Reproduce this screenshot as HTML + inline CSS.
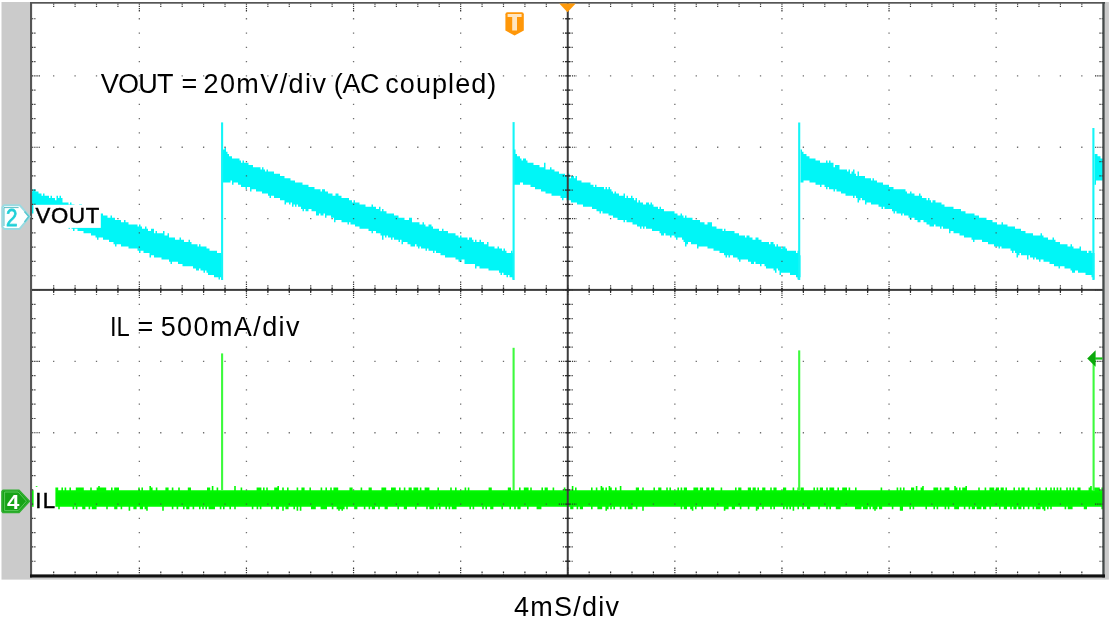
<!DOCTYPE html>
<html><head><meta charset="utf-8"><title>Scope</title>
<style>
html,body{margin:0;padding:0;background:#fff;}
body{width:1111px;height:641px;position:relative;overflow:hidden;font-family:"Liberation Sans",sans-serif;color:#000;}
.t{position:absolute;white-space:nowrap;line-height:1;font-size:27.0px;}
.t span{position:absolute;top:0;white-space:nowrap;}
.lb{font-size:22.2px;-webkit-text-stroke:0.45px #000;}
#l1{left:35.4px;top:205.2px;letter-spacing:0.8px;}
#l2{left:35.3px;top:489.5px;letter-spacing:1.3px;}
#m2{left:5.9px;top:205.8px;font-size:24.6px;color:#1fd0d8;-webkit-text-stroke:0.8px #1fd0d8;transform:scaleX(0.84);transform-origin:0 0;}
#m4{left:6.8px;top:492.8px;font-size:19.5px;color:#fff;font-weight:bold;transform:scaleX(1.14);transform-origin:0 0;}
</style></head><body>
<svg width="1111" height="641" viewBox="0 0 1111 641" style="position:absolute;left:0;top:0">
<rect x="1.5" y="2" width="1107.4" height="577.6" fill="#cbcbcb"/>
<rect x="31" y="3" width="1073" height="573" fill="#fff"/>
<g clip-path="url(#plotclip)">
<path d="M31 191.4V191.4H32.5V189.2H34V189.2H35.5V191.4H37V191.4H38.5V193.6H40V193.6H41.5V195.8H43V193.6H44.5V195.8H46V195.8H47.5V195.8H49V198H50.5V195.8H52V198H53.5V198H55V200.2H56.5V195.8H58V198H59.5V195.8H61V198H62.5V202.4H64V202.4H65.5V202.4H67V202.4H68.5V204.6H70V202.4H71.5V204.6H73V204.6H74.5V206.8H76V206.8H77.5V206.8H79V204.6H80.5V204.6H82V209H83.5V209H85V209H86.5V209H88V209H89.5V211.2H91V211.2H92.5V211.2H94V213.4H95.5V213.4H97V213.4H98.5V213.4H100V213.4H101.5V213.4H103V215.6H104.5V215.6H106V215.6H107.5V217.8H109V217.8H110.5V215.6H112V217.8H113.5V217.8H115V220H116.5V220H118V220H119.5V220H121V222.2H122.5V222.2H124V220H125.5V222.2H127V222.2H128.5V224.4H130V224.4H131.5V224.4H133V224.4H134.5V224.4H136V224.4H137.5V226.6H139V224.4H140.5V226.6H142V228.8H143.5V228.8H145V226.6H146.5V228.8H148V231H149.5V231H151V228.8H152.5V228.8H154V233.2H155.5V231H157V233.2H158.5V233.2H160V233.2H161.5V233.2H163V231H164.5V235.4H166V235.4H167.5V233.2H169V237.6H170.5V237.6H172V237.6H173.5V237.6H175V239.8H176.5V239.8H178V239.8H179.5V237.6H181V239.8H182.5V239.8H184V242H185.5V242H187V242H188.5V239.8H190V242H191.5V244.2H193V244.2H194.5V244.2H196V244.2H197.5V246.4H199V244.2H200.5V246.4H202V246.4H203.5V246.4H205V246.4H206.5V248.6H208V248.6H209.5V250.8H211V250.8H212.5V250.8H214V250.8H215.5V250.8H217V253H218.5V253H220V253H221.5V255.2H223V149.6H224.5V147.4H226V151.8H227.5V154H229V156.2H230.5V156.2H232V158.4H233.5V158.4H235V158.4H236.5V158.4H238V158.4H239.5V160.6H241V162.8H242.5V160.6H244V162.8H245.5V162.8H247V162.8H248.5V165H250V165H251.5V165H253V167.2H254.5V167.2H256V167.2H257.5V167.2H259V167.2H260.5V169.4H262V167.2H263.5V169.4H265V171.6H266.5V169.4H268V171.6H269.5V171.6H271V171.6H272.5V171.6H274V173.8H275.5V173.8H277V173.8H278.5V173.8H280V176H281.5V176H283V176H284.5V178.2H286V178.2H287.5V178.2H289V178.2H290.5V180.4H292V180.4H293.5V180.4H295V182.6H296.5V182.6H298V182.6H299.5V182.6H301V182.6H302.5V184.8H304V184.8H305.5V184.8H307V184.8H308.5V187H310V187H311.5V187H313V187H314.5V189.2H316V189.2H317.5V189.2H319V189.2H320.5V191.4H322V189.2H323.5V189.2H325V191.4H326.5V191.4H328V193.6H329.5V193.6H331V193.6H332.5V195.8H334V195.8H335.5V193.6H337V193.6H338.5V195.8H340V195.8H341.5V198H343V198H344.5V198H346V198H347.5V198H349V200.2H350.5V200.2H352V202.4H353.5V200.2H355V202.4H356.5V202.4H358V202.4H359.5V204.6H361V204.6H362.5V204.6H364V204.6H365.5V206.8H367V206.8H368.5V206.8H370V206.8H371.5V204.6H373V206.8H374.5V206.8H376V209H377.5V209H379V206.8H380.5V211.2H382V209H383.5V211.2H385V211.2H386.5V213.4H388V213.4H389.5V213.4H391V213.4H392.5V213.4H394V215.6H395.5V215.6H397V215.6H398.5V217.8H400V217.8H401.5V217.8H403V217.8H404.5V220H406V220H407.5V220H409V217.8H410.5V217.8H412V222.2H413.5V222.2H415V222.2H416.5V222.2H418V222.2H419.5V224.4H421V224.4H422.5V222.2H424V224.4H425.5V226.6H427V226.6H428.5V224.4H430V224.4H431.5V226.6H433V228.8H434.5V228.8H436V228.8H437.5V228.8H439V231H440.5V231H442V228.8H443.5V231H445V231H446.5V231H448V233.2H449.5V233.2H451V233.2H452.5V233.2H454V233.2H455.5V235.4H457V235.4H458.5V237.6H460V235.4H461.5V237.6H463V237.6H464.5V237.6H466V237.6H467.5V239.8H469V237.6H470.5V237.6H472V239.8H473.5V242H475V239.8H476.5V242H478V242H479.5V239.8H481V242H482.5V242H484V244.2H485.5V244.2H487V242H488.5V246.4H490V246.4H491.5V246.4H493V246.4H494.5V248.6H496V248.6H497.5V246.4H499V248.6H500.5V248.6H502V250.8H503.5V248.6H505V250.8H506.5V253H508V253H509.5V253H511V250.8H512.5V253H514V149.6H515.5V154H517V156.2H518.5V156.2H520V158.4H521.5V160.6H523V158.4H524.5V158.4H526V160.6H527.5V162.8H529V162.8H530.5V162.8H532V162.8H533.5V165H535V165H536.5V165H538V165H539.5V167.2H541V167.2H542.5V167.2H544V162.8H545.5V169.4H547V169.4H548.5V169.4H550V167.2H551.5V169.4H553V169.4H554.5V171.6H556V171.6H557.5V171.6H559V173.8H560.5V173.8H562V173.8H563.5V173.8H565V176H566.5V176H568V173.8H569.5V178.2H571V176H572.5V176H574V178.2H575.5V176H577V180.4H578.5V180.4H580V180.4H581.5V182.6H583V182.6H584.5V182.6H586V182.6H587.5V182.6H589V182.6H590.5V184.8H592V184.8H593.5V187H595V184.8H596.5V187H598V187H599.5V187H601V187H602.5V187H604V189.2H605.5V187H607V189.2H608.5V187H610V189.2H611.5V191.4H613V193.6H614.5V191.4H616V193.6H617.5V193.6H619V195.8H620.5V195.8H622V195.8H623.5V193.6H625V198H626.5V195.8H628V198H629.5V198H631V195.8H632.5V198H634V200.2H635.5V198H637V202.4H638.5V200.2H640V202.4H641.5V202.4H643V204.6H644.5V204.6H646V202.4H647.5V202.4H649V204.6H650.5V202.4H652V204.6H653.5V206.8H655V206.8H656.5V206.8H658V209H659.5V206.8H661V209H662.5V209H664V211.2H665.5V211.2H667V211.2H668.5V211.2H670V211.2H671.5V211.2H673V211.2H674.5V213.4H676V213.4H677.5V215.6H679V215.6H680.5V213.4H682V215.6H683.5V217.8H685V215.6H686.5V217.8H688V217.8H689.5V217.8H691V217.8H692.5V220H694V220H695.5V220H697V220H698.5V220H700V222.2H701.5V222.2H703V222.2H704.5V224.4H706V224.4H707.5V222.2H709V222.2H710.5V222.2H712V226.6H713.5V226.6H715V226.6H716.5V228.8H718V228.8H719.5V228.8H721V228.8H722.5V231H724V228.8H725.5V231H727V231H728.5V231H730V231H731.5V231H733V231H734.5V233.2H736V233.2H737.5V233.2H739V235.4H740.5V235.4H742V235.4H743.5V235.4H745V237.6H746.5V235.4H748V235.4H749.5V237.6H751V237.6H752.5V239.8H754V239.8H755.5V237.6H757V237.6H758.5V239.8H760V239.8H761.5V242H763V242H764.5V242H766V242H767.5V242H769V244.2H770.5V242H772V242H773.5V244.2H775V246.4H776.5V244.2H778V246.4H779.5V246.4H781V248.6H782.5V246.4H784V246.4H785.5V248.6H787V250.8H788.5V250.8H790V250.8H791.5V250.8H793V250.8H794.5V250.8H796V253H797.5V250.8H799V255.2H800.5V149.6H802V151.8H803.5V154H805V154H806.5V156.2H808V156.2H809.5V158.4H811V158.4H812.5V158.4H814V158.4H815.5V160.6H817V160.6H818.5V160.6H820V162.8H821.5V162.8H823V162.8H824.5V162.8H826V160.6H827.5V162.8H829V160.6H830.5V162.8H832V162.8H833.5V167.2H835V165H836.5V165H838V165H839.5V169.4H841V169.4H842.5V169.4H844V169.4H845.5V169.4H847V171.6H848.5V169.4H850V173.8H851.5V171.6H853V169.4H854.5V173.8H856V176H857.5V171.6H859V176H860.5V176H862V176H863.5V176H865V178.2H866.5V178.2H868V178.2H869.5V178.2H871V180.4H872.5V178.2H874V180.4H875.5V180.4H877V182.6H878.5V182.6H880V182.6H881.5V182.6H883V184.8H884.5V184.8H886V184.8H887.5V184.8H889V187H890.5V187H892V187H893.5V189.2H895V189.2H896.5V189.2H898V189.2H899.5V189.2H901V189.2H902.5V189.2H904V189.2H905.5V191.4H907V193.6H908.5V193.6H910V191.4H911.5V193.6H913V193.6H914.5V195.8H916V195.8H917.5V195.8H919V193.6H920.5V195.8H922V198H923.5V198H925V198H926.5V200.2H928V198H929.5V200.2H931V202.4H932.5V200.2H934V200.2H935.5V202.4H937V202.4H938.5V202.4H940V202.4H941.5V204.6H943V204.6H944.5V206.8H946V206.8H947.5V206.8H949V206.8H950.5V206.8H952V206.8H953.5V209H955V209H956.5V209H958V209H959.5V209H961V211.2H962.5V211.2H964V211.2H965.5V213.4H967V213.4H968.5V213.4H970V213.4H971.5V213.4H973V213.4H974.5V215.6H976V215.6H977.5V215.6H979V217.8H980.5V217.8H982V217.8H983.5V217.8H985V217.8H986.5V220H988V220H989.5V220H991V220H992.5V222.2H994V222.2H995.5V222.2H997V224.4H998.5V224.4H1000V224.4H1001.5V222.2H1003V224.4H1004.5V224.4H1006V224.4H1007.5V226.6H1009V226.6H1010.5V226.6H1012V226.6H1013.5V226.6H1015V228.8H1016.5V228.8H1018V228.8H1019.5V228.8H1021V231H1022.5V231H1024V231H1025.5V233.2H1027V233.2H1028.5V233.2H1030V233.2H1031.5V233.2H1033V235.4H1034.5V235.4H1036V235.4H1037.5V235.4H1039V235.4H1040.5V233.2H1042V235.4H1043.5V237.6H1045V237.6H1046.5V237.6H1048V239.8H1049.5V239.8H1051V239.8H1052.5V237.6H1054V239.8H1055.5V242H1057V242H1058.5V242H1060V244.2H1061.5V244.2H1063V244.2H1064.5V244.2H1066V244.2H1067.5V246.4H1069V246.4H1070.5V244.2H1072V246.4H1073.5V248.6H1075V248.6H1076.5V248.6H1078V248.6H1079.5V246.4H1081V250.8H1082.5V250.8H1084V250.8H1085.5V250.8H1087V253H1088.5V250.8H1090V250.8H1091.5V253H1093V253H1094.5V154H1096V154H1097.5V156.2H1099V156.2H1100.5V158.4H1102V158.4H1103.5V158.4H1105V180.4H1103.5V180.4H1102V180.4H1100.5V180.4H1099V180.4H1097.5V180.4H1096V184.8H1094.5V279.4H1093V277.2H1091.5V275H1090V275H1088.5V275H1087V275H1085.5V272.8H1084V272.8H1082.5V272.8H1081V272.8H1079.5V272.8H1078V270.6H1076.5V270.6H1075V272.8H1073.5V272.8H1072V270.6H1070.5V268.4H1069V268.4H1067.5V268.4H1066V268.4H1064.5V266.2H1063V266.2H1061.5V266.2H1060V268.4H1058.5V266.2H1057V266.2H1055.5V266.2H1054V264H1052.5V264H1051V264H1049.5V261.8H1048V261.8H1046.5V261.8H1045V261.8H1043.5V259.6H1042V259.6H1040.5V261.8H1039V259.6H1037.5V259.6H1036V257.4H1034.5V259.6H1033V257.4H1031.5V257.4H1030V255.2H1028.5V259.6H1027V255.2H1025.5V255.2H1024V255.2H1022.5V255.2H1021V253H1019.5V255.2H1018V257.4H1016.5V253H1015V250.8H1013.5V253H1012V250.8H1010.5V248.6H1009V248.6H1007.5V248.6H1006V248.6H1004.5V248.6H1003V248.6H1001.5V246.4H1000V248.6H998.5V246.4H997V246.4H995.5V246.4H994V244.2H992.5V244.2H991V244.2H989.5V244.2H988V242H986.5V242H985V242H983.5V242H982V239.8H980.5V239.8H979V239.8H977.5V239.8H976V239.8H974.5V242H973V239.8H971.5V237.6H970V237.6H968.5V237.6H967V237.6H965.5V237.6H964V235.4H962.5V235.4H961V235.4H959.5V233.2H958V233.2H956.5V233.2H955V233.2H953.5V231H952V231H950.5V233.2H949V228.8H947.5V228.8H946V228.8H944.5V228.8H943V226.6H941.5V228.8H940V226.6H938.5V226.6H937V226.6H935.5V224.4H934V226.6H932.5V226.6H931V226.6H929.5V224.4H928V224.4H926.5V222.2H925V222.2H923.5V220H922V220H920.5V222.2H919V222.2H917.5V220H916V220H914.5V217.8H913V217.8H911.5V220H910V217.8H908.5V215.6H907V215.6H905.5V215.6H904V213.4H902.5V215.6H901V213.4H899.5V213.4H898V213.4H896.5V211.2H895V213.4H893.5V211.2H892V209H890.5V209H889V209H887.5V209H886V209H884.5V206.8H883V209H881.5V206.8H880V206.8H878.5V204.6H877V204.6H875.5V204.6H874V204.6H872.5V204.6H871V202.4H869.5V202.4H868V202.4H866.5V204.6H865V200.2H863.5V200.2H862V198H860.5V200.2H859V202.4H857.5V198H856V195.8H854.5V198H853V195.8H851.5V195.8H850V195.8H848.5V195.8H847V195.8H845.5V193.6H844V193.6H842.5V193.6H841V191.4H839.5V191.4H838V191.4H836.5V189.2H835V191.4H833.5V189.2H832V189.2H830.5V189.2H829V187H827.5V189.2H826V187H824.5V184.8H823V184.8H821.5V187H820V184.8H818.5V184.8H817V184.8H815.5V182.6H814V182.6H812.5V182.6H811V182.6H809.5V180.4H808V180.4H806.5V180.4H805V180.4H803.5V182.6H802V182.6H800.5V277.2H799V279.4H797.5V277.2H796V275H794.5V275H793V275H791.5V275H790V272.8H788.5V272.8H787V272.8H785.5V272.8H784V272.8H782.5V272.8H781V275H779.5V270.6H778V268.4H776.5V272.8H775V270.6H773.5V268.4H772V268.4H770.5V268.4H769V268.4H767.5V268.4H766V266.2H764.5V264H763V264H761.5V266.2H760V264H758.5V264H757V264H755.5V261.8H754V264H752.5V264H751V261.8H749.5V261.8H748V259.6H746.5V259.6H745V259.6H743.5V259.6H742V259.6H740.5V261.8H739V259.6H737.5V257.4H736V257.4H734.5V257.4H733V255.2H731.5V255.2H730V257.4H728.5V255.2H727V257.4H725.5V255.2H724V253H722.5V253H721V253H719.5V250.8H718V250.8H716.5V250.8H715V250.8H713.5V248.6H712V248.6H710.5V248.6H709V248.6H707.5V246.4H706V246.4H704.5V246.4H703V246.4H701.5V246.4H700V246.4H698.5V248.6H697V244.2H695.5V244.2H694V244.2H692.5V244.2H691V242H689.5V242H688V244.2H686.5V246.4H685V242H683.5V239.8H682V237.6H680.5V237.6H679V237.6H677.5V239.8H676V237.6H674.5V235.4H673V235.4H671.5V237.6H670V235.4H668.5V235.4H667V235.4H665.5V233.2H664V235.4H662.5V235.4H661V233.2H659.5V231H658V231H656.5V231H655V231H653.5V231H652V228.8H650.5V228.8H649V228.8H647.5V228.8H646V226.6H644.5V228.8H643V226.6H641.5V228.8H640V226.6H638.5V226.6H637V224.4H635.5V224.4H634V224.4H632.5V222.2H631V222.2H629.5V222.2H628V222.2H626.5V220H625V222.2H623.5V220H622V220H620.5V220H619V220H617.5V217.8H616V217.8H614.5V217.8H613V215.6H611.5V215.6H610V215.6H608.5V213.4H607V213.4H605.5V213.4H604V213.4H602.5V211.2H601V213.4H599.5V211.2H598V211.2H596.5V209H595V209H593.5V209H592V206.8H590.5V206.8H589V206.8H587.5V206.8H586V206.8H584.5V206.8H583V204.6H581.5V204.6H580V204.6H578.5V204.6H577V202.4H575.5V202.4H574V202.4H572.5V202.4H571V200.2H569.5V200.2H568V200.2H566.5V198H565V198H563.5V200.2H562V198H560.5V195.8H559V195.8H557.5V195.8H556V195.8H554.5V195.8H553V195.8H551.5V193.6H550V193.6H548.5V193.6H547V193.6H545.5V191.4H544V191.4H542.5V191.4H541V189.2H539.5V189.2H538V189.2H536.5V189.2H535V187H533.5V187H532V187H530.5V184.8H529V184.8H527.5V184.8H526V184.8H524.5V184.8H523V182.6H521.5V182.6H520V184.8H518.5V184.8H517V184.8H515.5V184.8H514V279.4H512.5V277.2H511V277.2H509.5V275H508V277.2H506.5V275H505V275H503.5V272.8H502V275H500.5V272.8H499V270.6H497.5V270.6H496V270.6H494.5V270.6H493V270.6H491.5V270.6H490V270.6H488.5V268.4H487V268.4H485.5V268.4H484V268.4H482.5V268.4H481V268.4H479.5V266.2H478V266.2H476.5V268.4H475V264H473.5V264H472V264H470.5V264H469V264H467.5V264H466V264H464.5V259.6H463V259.6H461.5V261.8H460V261.8H458.5V259.6H457V259.6H455.5V257.4H454V257.4H452.5V257.4H451V257.4H449.5V257.4H448V257.4H446.5V257.4H445V255.2H443.5V255.2H442V255.2H440.5V253H439V253H437.5V253H436V250.8H434.5V253H433V250.8H431.5V250.8H430V250.8H428.5V248.6H427V250.8H425.5V248.6H424V248.6H422.5V248.6H421V246.4H419.5V248.6H418V246.4H416.5V244.2H415V246.4H413.5V246.4H412V246.4H410.5V244.2H409V244.2H407.5V242H406V242H404.5V242H403V244.2H401.5V239.8H400V242H398.5V239.8H397V239.8H395.5V239.8H394V237.6H392.5V239.8H391V237.6H389.5V237.6H388V235.4H386.5V237.6H385V235.4H383.5V239.8H382V235.4H380.5V233.2H379V233.2H377.5V233.2H376V231H374.5V231H373V233.2H371.5V231H370V231H368.5V228.8H367V228.8H365.5V228.8H364V228.8H362.5V228.8H361V228.8H359.5V226.6H358V226.6H356.5V226.6H355V224.4H353.5V224.4H352V224.4H350.5V222.2H349V224.4H347.5V222.2H346V222.2H344.5V222.2H343V222.2H341.5V220H340V220H338.5V220H337V220H335.5V222.2H334V217.8H332.5V217.8H331V215.6H329.5V215.6H328V215.6H326.5V217.8H325V213.4H323.5V215.6H322V215.6H320.5V213.4H319V215.6H317.5V215.6H316V211.2H314.5V211.2H313V211.2H311.5V209H310V209H308.5V211.2H307V211.2H305.5V209H304V211.2H302.5V209H301V206.8H299.5V206.8H298V204.6H296.5V206.8H295V204.6H293.5V206.8H292V202.4H290.5V204.6H289V202.4H287.5V202.4H286V204.6H284.5V200.2H283V200.2H281.5V200.2H280V198H278.5V198H277V198H275.5V198H274V195.8H272.5V195.8H271V198H269.5V195.8H268V193.6H266.5V193.6H265V193.6H263.5V193.6H262V191.4H260.5V191.4H259V191.4H257.5V191.4H256V189.2H254.5V189.2H253V189.2H251.5V191.4H250V187H248.5V187H247V189.2H245.5V187H244V187H242.5V187H241V184.8H239.5V184.8H238V182.6H236.5V182.6H235V182.6H233.5V184.8H232V180.4H230.5V182.6H229V182.6H227.5V182.6H226V182.6H224.5V182.6H223V279.4H221.5V277.2H220V279.4H218.5V277.2H217V277.2H215.5V277.2H214V275H212.5V275H211V275H209.5V275H208V272.8H206.5V270.6H205V272.8H203.5V270.6H202V270.6H200.5V268.4H199V270.6H197.5V270.6H196V268.4H194.5V268.4H193V266.2H191.5V266.2H190V266.2H188.5V266.2H187V266.2H185.5V266.2H184V266.2H182.5V264H181V264H179.5V264H178V261.8H176.5V261.8H175V261.8H173.5V261.8H172V264H170.5V261.8H169V259.6H167.5V259.6H166V259.6H164.5V259.6H163V259.6H161.5V257.4H160V257.4H158.5V257.4H157V257.4H155.5V257.4H154V255.2H152.5V255.2H151V257.4H149.5V253H148V253H146.5V253H145V253H143.5V250.8H142V250.8H140.5V253H139V250.8H137.5V248.6H136V248.6H134.5V248.6H133V248.6H131.5V248.6H130V248.6H128.5V246.4H127V246.4H125.5V246.4H124V246.4H122.5V246.4H121V244.2H119.5V244.2H118V244.2H116.5V246.4H115V244.2H113.5V242H112V242H110.5V242H109V239.8H107.5V239.8H106V239.8H104.5V239.8H103V237.6H101.5V237.6H100V237.6H98.5V239.8H97V237.6H95.5V235.4H94V235.4H92.5V235.4H91V233.2H89.5V233.2H88V233.2H86.5V233.2H85V233.2H83.5V231H82V231H80.5V231H79V231H77.5V228.8H76V228.8H74.5V231H73V228.8H71.5V226.6H70V228.8H68.5V226.6H67V226.6H65.5V226.6H64V224.4H62.5V224.4H61V224.4H59.5V226.6H58V222.2H56.5V222.2H55V222.2H53.5V222.2H52V222.2H50.5V220H49V220H47.5V220H46V220H44.5V217.8H43V217.8H41.5V217.8H40V217.8H38.5V217.8H37V215.6H35.5V215.6H34V213.4H32.5V213.4H31Z" fill="#00f6f7"/>
<rect x="221.05" y="122.4" width="2.1" height="157.6" fill="#14f5f7"/>
<rect x="512.55" y="122.1" width="2.1" height="157.9" fill="#14f5f7"/>
<rect x="798.15" y="122.5" width="2.1" height="157.5" fill="#14f5f7"/>
<rect x="1092.35" y="128" width="2.1" height="152" fill="#14f5f7"/>
<path d="M31 490.2V490.2H32.6V490.2H34.2V490.2H35.8V486H37.4V487.6H39V487.6H40.6V490.2H42.2V487.6H43.8V490.2H45.4V490.2H47V487.6H48.6V487.6H50.2V487.6H51.8V490.2H53.4V487.6H55V487.6H56.6V487.6H58.2V490.2H59.8V490.2H61.4V487.6H63V490.2H64.6V487.6H66.2V490.2H67.8V490.2H69.4V487.6H71V490.2H72.6V490.2H74.2V490.2H75.8V487.6H77.4V487.6H79V487.6H80.6V487.6H82.2V487.6H83.8V490.2H85.4V490.2H87V490.2H88.6V490.2H90.2V487.6H91.8V490.2H93.4V490.2H95V490.2H96.6V487.6H98.2V486H99.8V487.6H101.4V487.6H103V487.6H104.6V487.6H106.2V490.2H107.8V490.2H109.4V490.2H111V487.6H112.6V490.2H114.2V487.6H115.8V487.6H117.4V487.6H119V490.2H120.6V490.2H122.2V490.2H123.8V490.2H125.4V490.2H127V490.2H128.6V490.2H130.2V490.2H131.8V490.2H133.4V490.2H135V490.2H136.6V490.2H138.2V487.6H139.8V490.2H141.4V487.6H143V490.2H144.6V490.2H146.2V490.2H147.8V490.2H149.4V486H151V487.6H152.6V490.2H154.2V490.2H155.8V487.6H157.4V490.2H159V490.2H160.6V490.2H162.2V490.2H163.8V490.2H165.4V487.6H167V487.6H168.6V490.2H170.2V490.2H171.8V487.6H173.4V490.2H175V490.2H176.6V490.2H178.2V487.6H179.8V490.2H181.4V490.2H183V490.2H184.6V490.2H186.2V490.2H187.8V487.6H189.4V487.6H191V490.2H192.6V490.2H194.2V490.2H195.8V490.2H197.4V490.2H199V490.2H200.6V490.2H202.2V490.2H203.8V490.2H205.4V490.2H207V487.6H208.6V487.6H210.2V490.2H211.8V486H213.4V490.2H215V490.2H216.6V487.6H218.2V490.2H219.8V490.2H221.4V490.2H223V490.2H224.6V490.2H226.2V490.2H227.8V490.2H229.4V490.2H231V490.2H232.6V490.2H234.2V486H235.8V490.2H237.4V490.2H239V490.2H240.6V487.6H242.2V490.2H243.8V490.2H245.4V490.2H247V490.2H248.6V490.2H250.2V490.2H251.8V490.2H253.4V490.2H255V490.2H256.6V487.6H258.2V487.6H259.8V487.6H261.4V490.2H263V487.6H264.6V490.2H266.2V487.6H267.8V490.2H269.4V490.2H271V490.2H272.6V490.2H274.2V487.6H275.8V487.6H277.4V486H279V490.2H280.6V490.2H282.2V487.6H283.8V490.2H285.4V490.2H287V487.6H288.6V490.2H290.2V490.2H291.8V490.2H293.4V490.2H295V490.2H296.6V487.6H298.2V490.2H299.8V490.2H301.4V487.6H303V487.6H304.6V490.2H306.2V490.2H307.8V490.2H309.4V487.6H311V490.2H312.6V490.2H314.2V490.2H315.8V490.2H317.4V490.2H319V490.2H320.6V487.6H322.2V490.2H323.8V490.2H325.4V487.6H327V490.2H328.6V490.2H330.2V487.6H331.8V490.2H333.4V487.6H335V487.6H336.6V487.6H338.2V490.2H339.8V490.2H341.4V490.2H343V490.2H344.6V490.2H346.2V490.2H347.8V490.2H349.4V487.6H351V487.6H352.6V490.2H354.2V490.2H355.8V490.2H357.4V490.2H359V490.2H360.6V487.6H362.2V490.2H363.8V490.2H365.4V490.2H367V490.2H368.6V487.6H370.2V487.6H371.8V490.2H373.4V490.2H375V490.2H376.6V490.2H378.2V490.2H379.8V490.2H381.4V487.6H383V487.6H384.6V487.6H386.2V490.2H387.8V490.2H389.4V490.2H391V487.6H392.6V487.6H394.2V487.6H395.8V490.2H397.4V490.2H399V487.6H400.6V490.2H402.2V490.2H403.8V487.6H405.4V490.2H407V490.2H408.6V487.6H410.2V487.6H411.8V490.2H413.4V487.6H415V487.6H416.6V487.6H418.2V490.2H419.8V487.6H421.4V490.2H423V490.2H424.6V487.6H426.2V487.6H427.8V487.6H429.4V490.2H431V490.2H432.6V490.2H434.2V490.2H435.8V490.2H437.4V487.6H439V490.2H440.6V490.2H442.2V490.2H443.8V490.2H445.4V490.2H447V490.2H448.6V490.2H450.2V487.6H451.8V490.2H453.4V490.2H455V487.6H456.6V490.2H458.2V490.2H459.8V490.2H461.4V490.2H463V490.2H464.6V487.6H466.2V490.2H467.8V487.6H469.4V490.2H471V490.2H472.6V490.2H474.2V490.2H475.8V490.2H477.4V490.2H479V490.2H480.6V490.2H482.2V490.2H483.8V490.2H485.4V490.2H487V490.2H488.6V487.6H490.2V487.6H491.8V490.2H493.4V490.2H495V490.2H496.6V490.2H498.2V490.2H499.8V490.2H501.4V490.2H503V490.2H504.6V490.2H506.2V490.2H507.8V487.6H509.4V487.6H511V490.2H512.6V490.2H514.2V490.2H515.8V490.2H517.4V490.2H519V487.6H520.6V490.2H522.2V490.2H523.8V487.6H525.4V487.6H527V487.6H528.6V490.2H530.2V487.6H531.8V490.2H533.4V490.2H535V490.2H536.6V490.2H538.2V490.2H539.8V490.2H541.4V487.6H543V490.2H544.6V487.6H546.2V487.6H547.8V490.2H549.4V490.2H551V490.2H552.6V487.6H554.2V490.2H555.8V490.2H557.4V490.2H559V490.2H560.6V490.2H562.2V490.2H563.8V487.6H565.4V490.2H567V490.2H568.6V490.2H570.2V490.2H571.8V486H573.4V490.2H575V487.6H576.6V490.2H578.2V490.2H579.8V490.2H581.4V490.2H583V490.2H584.6V490.2H586.2V490.2H587.8V490.2H589.4V490.2H591V487.6H592.6V490.2H594.2V490.2H595.8V487.6H597.4V490.2H599V490.2H600.6V486H602.2V487.6H603.8V490.2H605.4V487.6H607V490.2H608.6V486H610.2V487.6H611.8V490.2H613.4V490.2H615V487.6H616.6V490.2H618.2V490.2H619.8V486H621.4V490.2H623V490.2H624.6V490.2H626.2V490.2H627.8V490.2H629.4V490.2H631V490.2H632.6V490.2H634.2V490.2H635.8V487.6H637.4V487.6H639V490.2H640.6V490.2H642.2V487.6H643.8V490.2H645.4V490.2H647V490.2H648.6V490.2H650.2V490.2H651.8V490.2H653.4V487.6H655V490.2H656.6V490.2H658.2V487.6H659.8V487.6H661.4V490.2H663V490.2H664.6V490.2H666.2V487.6H667.8V490.2H669.4V487.6H671V490.2H672.6V490.2H674.2V490.2H675.8V490.2H677.4V487.6H679V490.2H680.6V487.6H682.2V490.2H683.8V487.6H685.4V487.6H687V490.2H688.6V490.2H690.2V490.2H691.8V490.2H693.4V487.6H695V487.6H696.6V487.6H698.2V490.2H699.8V487.6H701.4V487.6H703V490.2H704.6V490.2H706.2V487.6H707.8V487.6H709.4V490.2H711V487.6H712.6V487.6H714.2V490.2H715.8V490.2H717.4V490.2H719V490.2H720.6V487.6H722.2V490.2H723.8V490.2H725.4V490.2H727V490.2H728.6V490.2H730.2V490.2H731.8V490.2H733.4V490.2H735V487.6H736.6V490.2H738.2V487.6H739.8V487.6H741.4V490.2H743V490.2H744.6V490.2H746.2V490.2H747.8V487.6H749.4V487.6H751V490.2H752.6V487.6H754.2V487.6H755.8V490.2H757.4V487.6H759V490.2H760.6V490.2H762.2V487.6H763.8V487.6H765.4V490.2H767V490.2H768.6V490.2H770.2V487.6H771.8V490.2H773.4V487.6H775V487.6H776.6V490.2H778.2V490.2H779.8V490.2H781.4V490.2H783V487.6H784.6V487.6H786.2V490.2H787.8V490.2H789.4V490.2H791V490.2H792.6V487.6H794.2V490.2H795.8V490.2H797.4V487.6H799V490.2H800.6V487.6H802.2V487.6H803.8V490.2H805.4V490.2H807V490.2H808.6V490.2H810.2V490.2H811.8V490.2H813.4V487.6H815V490.2H816.6V487.6H818.2V490.2H819.8V487.6H821.4V487.6H823V490.2H824.6V490.2H826.2V487.6H827.8V490.2H829.4V487.6H831V487.6H832.6V487.6H834.2V490.2H835.8V490.2H837.4V487.6H839V490.2H840.6V490.2H842.2V487.6H843.8V487.6H845.4V487.6H847V490.2H848.6V487.6H850.2V490.2H851.8V490.2H853.4V490.2H855V487.6H856.6V490.2H858.2V490.2H859.8V490.2H861.4V490.2H863V490.2H864.6V490.2H866.2V490.2H867.8V490.2H869.4V490.2H871V490.2H872.6V490.2H874.2V490.2H875.8V490.2H877.4V490.2H879V490.2H880.6V487.6H882.2V490.2H883.8V490.2H885.4V490.2H887V490.2H888.6V490.2H890.2V490.2H891.8V490.2H893.4V490.2H895V490.2H896.6V487.6H898.2V490.2H899.8V487.6H901.4V490.2H903V487.6H904.6V490.2H906.2V490.2H907.8V490.2H909.4V490.2H911V487.6H912.6V487.6H914.2V490.2H915.8V486H917.4V490.2H919V490.2H920.6V487.6H922.2V486H923.8V490.2H925.4V490.2H927V490.2H928.6V490.2H930.2V490.2H931.8V490.2H933.4V487.6H935V487.6H936.6V487.6H938.2V490.2H939.8V487.6H941.4V490.2H943V490.2H944.6V487.6H946.2V487.6H947.8V487.6H949.4V490.2H951V490.2H952.6V490.2H954.2V486H955.8V487.6H957.4V490.2H959V487.6H960.6V490.2H962.2V487.6H963.8V487.6H965.4V486H967V490.2H968.6V490.2H970.2V490.2H971.8V490.2H973.4V490.2H975V490.2H976.6V490.2H978.2V487.6H979.8V490.2H981.4V490.2H983V490.2H984.6V487.6H986.2V490.2H987.8V490.2H989.4V487.6H991V487.6H992.6V487.6H994.2V490.2H995.8V487.6H997.4V487.6H999V490.2H1000.6V487.6H1002.2V487.6H1003.8V490.2H1005.4V487.6H1007V490.2H1008.6V490.2H1010.2V490.2H1011.8V490.2H1013.4V487.6H1015V490.2H1016.6V490.2H1018.2V487.6H1019.8V490.2H1021.4V487.6H1023V487.6H1024.6V490.2H1026.2V490.2H1027.8V487.6H1029.4V490.2H1031V490.2H1032.6V490.2H1034.2V490.2H1035.8V487.6H1037.4V490.2H1039V487.6H1040.6V490.2H1042.2V490.2H1043.8V490.2H1045.4V487.6H1047V490.2H1048.6V490.2H1050.2V487.6H1051.8V490.2H1053.4V487.6H1055V490.2H1056.6V487.6H1058.2V490.2H1059.8V487.6H1061.4V490.2H1063V490.2H1064.6V490.2H1066.2V487.6H1067.8V490.2H1069.4V487.6H1071V490.2H1072.6V487.6H1074.2V490.2H1075.8V490.2H1077.4V487.6H1079V487.6H1080.6V490.2H1082.2V490.2H1083.8V490.2H1085.4V490.2H1087V490.2H1088.6V487.6H1090.2V486H1091.8V490.2H1093.4V487.6H1095V487.6H1096.6V487.6H1098.2V487.6H1099.8V490.2H1101.4V487.6H1103V487.6H1104.6V506.8H1103V509.2H1101.4V506.8H1099.8V506.8H1098.2V506.8H1096.6V506.8H1095V506.8H1093.4V506.8H1091.8V506.8H1090.2V506.8H1088.6V506.8H1087V509.2H1085.4V509.2H1083.8V506.8H1082.2V506.8H1080.6V506.8H1079V506.8H1077.4V506.8H1075.8V506.8H1074.2V506.8H1072.6V509.2H1071V509.2H1069.4V509.2H1067.8V506.8H1066.2V509.2H1064.6V506.8H1063V506.8H1061.4V506.8H1059.8V506.8H1058.2V506.8H1056.6V506.8H1055V506.8H1053.4V506.8H1051.8V509.2H1050.2V506.8H1048.6V509.2H1047V506.8H1045.4V510.8H1043.8V509.2H1042.2V506.8H1040.6V509.2H1039V509.2H1037.4V509.2H1035.8V506.8H1034.2V509.2H1032.6V506.8H1031V506.8H1029.4V509.2H1027.8V506.8H1026.2V506.8H1024.6V509.2H1023V506.8H1021.4V509.2H1019.8V509.2H1018.2V506.8H1016.6V509.2H1015V509.2H1013.4V506.8H1011.8V509.2H1010.2V506.8H1008.6V506.8H1007V509.2H1005.4V509.2H1003.8V506.8H1002.2V506.8H1000.6V509.2H999V506.8H997.4V506.8H995.8V506.8H994.2V506.8H992.6V506.8H991V509.2H989.4V506.8H987.8V506.8H986.2V509.2H984.6V509.2H983V506.8H981.4V509.2H979.8V509.2H978.2V509.2H976.6V506.8H975V509.2H973.4V509.2H971.8V506.8H970.2V509.2H968.6V506.8H967V506.8H965.4V509.2H963.8V506.8H962.2V506.8H960.6V506.8H959V509.2H957.4V509.2H955.8V509.2H954.2V506.8H952.6V506.8H951V506.8H949.4V509.2H947.8V506.8H946.2V509.2H944.6V506.8H943V506.8H941.4V506.8H939.8V506.8H938.2V509.2H936.6V506.8H935V509.2H933.4V506.8H931.8V506.8H930.2V506.8H928.6V506.8H927V509.2H925.4V506.8H923.8V506.8H922.2V506.8H920.6V506.8H919V506.8H917.4V506.8H915.8V506.8H914.2V509.2H912.6V506.8H911V509.2H909.4V506.8H907.8V506.8H906.2V506.8H904.6V506.8H903V510.8H901.4V510.8H899.8V506.8H898.2V506.8H896.6V506.8H895V506.8H893.4V509.2H891.8V506.8H890.2V506.8H888.6V506.8H887V506.8H885.4V506.8H883.8V506.8H882.2V509.2H880.6V509.2H879V506.8H877.4V509.2H875.8V510.8H874.2V509.2H872.6V506.8H871V509.2H869.4V506.8H867.8V509.2H866.2V509.2H864.6V509.2H863V506.8H861.4V509.2H859.8V509.2H858.2V509.2H856.6V509.2H855V506.8H853.4V506.8H851.8V506.8H850.2V506.8H848.6V506.8H847V506.8H845.4V506.8H843.8V506.8H842.2V506.8H840.6V509.2H839V509.2H837.4V509.2H835.8V506.8H834.2V506.8H832.6V506.8H831V509.2H829.4V506.8H827.8V509.2H826.2V506.8H824.6V506.8H823V506.8H821.4V506.8H819.8V509.2H818.2V506.8H816.6V506.8H815V506.8H813.4V506.8H811.8V506.8H810.2V509.2H808.6V509.2H807V506.8H805.4V506.8H803.8V509.2H802.2V506.8H800.6V506.8H799V509.2H797.4V506.8H795.8V506.8H794.2V510.8H792.6V506.8H791V509.2H789.4V506.8H787.8V509.2H786.2V506.8H784.6V509.2H783V506.8H781.4V506.8H779.8V506.8H778.2V506.8H776.6V506.8H775V509.2H773.4V506.8H771.8V509.2H770.2V506.8H768.6V506.8H767V506.8H765.4V506.8H763.8V509.2H762.2V506.8H760.6V506.8H759V509.2H757.4V510.8H755.8V506.8H754.2V506.8H752.6V506.8H751V506.8H749.4V509.2H747.8V506.8H746.2V506.8H744.6V506.8H743V506.8H741.4V509.2H739.8V506.8H738.2V506.8H736.6V506.8H735V509.2H733.4V509.2H731.8V506.8H730.2V506.8H728.6V509.2H727V509.2H725.4V510.8H723.8V506.8H722.2V506.8H720.6V506.8H719V506.8H717.4V506.8H715.8V509.2H714.2V506.8H712.6V506.8H711V506.8H709.4V506.8H707.8V506.8H706.2V506.8H704.6V506.8H703V509.2H701.4V506.8H699.8V506.8H698.2V506.8H696.6V509.2H695V506.8H693.4V510.8H691.8V509.2H690.2V506.8H688.6V506.8H687V509.2H685.4V509.2H683.8V506.8H682.2V509.2H680.6V506.8H679V506.8H677.4V506.8H675.8V506.8H674.2V506.8H672.6V506.8H671V506.8H669.4V506.8H667.8V506.8H666.2V506.8H664.6V506.8H663V506.8H661.4V506.8H659.8V506.8H658.2V506.8H656.6V506.8H655V506.8H653.4V506.8H651.8V506.8H650.2V506.8H648.6V506.8H647V506.8H645.4V506.8H643.8V510.8H642.2V506.8H640.6V506.8H639V506.8H637.4V509.2H635.8V506.8H634.2V506.8H632.6V509.2H631V509.2H629.4V509.2H627.8V506.8H626.2V509.2H624.6V506.8H623V506.8H621.4V509.2H619.8V506.8H618.2V506.8H616.6V506.8H615V509.2H613.4V506.8H611.8V509.2H610.2V506.8H608.6V509.2H607V510.8H605.4V506.8H603.8V506.8H602.2V509.2H600.6V509.2H599V509.2H597.4V506.8H595.8V506.8H594.2V506.8H592.6V509.2H591V506.8H589.4V506.8H587.8V506.8H586.2V506.8H584.6V506.8H583V509.2H581.4V509.2H579.8V506.8H578.2V509.2H576.6V506.8H575V506.8H573.4V509.2H571.8V509.2H570.2V506.8H568.6V506.8H567V506.8H565.4V506.8H563.8V506.8H562.2V506.8H560.6V506.8H559V506.8H557.4V506.8H555.8V506.8H554.2V506.8H552.6V506.8H551V506.8H549.4V506.8H547.8V506.8H546.2V506.8H544.6V506.8H543V506.8H541.4V509.2H539.8V509.2H538.2V509.2H536.6V506.8H535V506.8H533.4V506.8H531.8V506.8H530.2V506.8H528.6V509.2H527V506.8H525.4V506.8H523.8V506.8H522.2V506.8H520.6V509.2H519V509.2H517.4V506.8H515.8V509.2H514.2V506.8H512.6V506.8H511V509.2H509.4V506.8H507.8V506.8H506.2V506.8H504.6V506.8H503V509.2H501.4V506.8H499.8V506.8H498.2V506.8H496.6V506.8H495V506.8H493.4V509.2H491.8V509.2H490.2V506.8H488.6V506.8H487V509.2H485.4V506.8H483.8V509.2H482.2V506.8H480.6V506.8H479V506.8H477.4V506.8H475.8V506.8H474.2V509.2H472.6V506.8H471V509.2H469.4V506.8H467.8V506.8H466.2V506.8H464.6V506.8H463V506.8H461.4V506.8H459.8V506.8H458.2V506.8H456.6V509.2H455V509.2H453.4V509.2H451.8V506.8H450.2V509.2H448.6V506.8H447V509.2H445.4V506.8H443.8V506.8H442.2V506.8H440.6V509.2H439V506.8H437.4V509.2H435.8V506.8H434.2V509.2H432.6V509.2H431V509.2H429.4V506.8H427.8V509.2H426.2V506.8H424.6V506.8H423V506.8H421.4V506.8H419.8V506.8H418.2V506.8H416.6V509.2H415V506.8H413.4V506.8H411.8V506.8H410.2V506.8H408.6V506.8H407V509.2H405.4V509.2H403.8V506.8H402.2V506.8H400.6V506.8H399V509.2H397.4V506.8H395.8V506.8H394.2V506.8H392.6V506.8H391V506.8H389.4V506.8H387.8V509.2H386.2V509.2H384.6V506.8H383V506.8H381.4V506.8H379.8V509.2H378.2V506.8H376.6V506.8H375V509.2H373.4V509.2H371.8V506.8H370.2V509.2H368.6V506.8H367V506.8H365.4V509.2H363.8V506.8H362.2V506.8H360.6V506.8H359V506.8H357.4V509.2H355.8V509.2H354.2V506.8H352.6V506.8H351V506.8H349.4V506.8H347.8V509.2H346.2V506.8H344.6V509.2H343V510.8H341.4V509.2H339.8V510.8H338.2V509.2H336.6V506.8H335V506.8H333.4V509.2H331.8V506.8H330.2V506.8H328.6V506.8H327V509.2H325.4V509.2H323.8V509.2H322.2V509.2H320.6V506.8H319V506.8H317.4V506.8H315.8V509.2H314.2V509.2H312.6V509.2H311V506.8H309.4V506.8H307.8V506.8H306.2V506.8H304.6V506.8H303V506.8H301.4V510.8H299.8V506.8H298.2V510.8H296.6V506.8H295V509.2H293.4V506.8H291.8V506.8H290.2V506.8H288.6V509.2H287V509.2H285.4V506.8H283.8V510.8H282.2V506.8H280.6V506.8H279V509.2H277.4V509.2H275.8V506.8H274.2V506.8H272.6V509.2H271V506.8H269.4V506.8H267.8V506.8H266.2V506.8H264.6V506.8H263V506.8H261.4V509.2H259.8V506.8H258.2V509.2H256.6V506.8H255V506.8H253.4V509.2H251.8V506.8H250.2V506.8H248.6V506.8H247V506.8H245.4V506.8H243.8V506.8H242.2V506.8H240.6V506.8H239V506.8H237.4V506.8H235.8V509.2H234.2V506.8H232.6V506.8H231V509.2H229.4V506.8H227.8V506.8H226.2V506.8H224.6V509.2H223V506.8H221.4V509.2H219.8V506.8H218.2V506.8H216.6V506.8H215V509.2H213.4V509.2H211.8V509.2H210.2V509.2H208.6V506.8H207V509.2H205.4V506.8H203.8V509.2H202.2V506.8H200.6V509.2H199V506.8H197.4V506.8H195.8V506.8H194.2V509.2H192.6V506.8H191V506.8H189.4V509.2H187.8V509.2H186.2V506.8H184.6V509.2H183V506.8H181.4V506.8H179.8V506.8H178.2V509.2H176.6V506.8H175V506.8H173.4V509.2H171.8V506.8H170.2V506.8H168.6V506.8H167V506.8H165.4V506.8H163.8V510.8H162.2V506.8H160.6V506.8H159V506.8H157.4V506.8H155.8V506.8H154.2V506.8H152.6V506.8H151V506.8H149.4V506.8H147.8V510.8H146.2V509.2H144.6V506.8H143V509.2H141.4V509.2H139.8V506.8H138.2V506.8H136.6V509.2H135V509.2H133.4V506.8H131.8V506.8H130.2V510.8H128.6V506.8H127V506.8H125.4V506.8H123.8V506.8H122.2V509.2H120.6V506.8H119V506.8H117.4V509.2H115.8V509.2H114.2V506.8H112.6V506.8H111V506.8H109.4V506.8H107.8V509.2H106.2V506.8H104.6V506.8H103V506.8H101.4V506.8H99.8V506.8H98.2V506.8H96.6V509.2H95V509.2H93.4V509.2H91.8V506.8H90.2V509.2H88.6V506.8H87V506.8H85.4V509.2H83.8V509.2H82.2V506.8H80.6V506.8H79V506.8H77.4V509.2H75.8V506.8H74.2V509.2H72.6V506.8H71V506.8H69.4V506.8H67.8V506.8H66.2V506.8H64.6V506.8H63V506.8H61.4V506.8H59.8V509.2H58.2V506.8H56.6V506.8H55V506.8H53.4V506.8H51.8V509.2H50.2V506.8H48.6V509.2H47V506.8H45.4V506.8H43.8V506.8H42.2V506.8H40.6V506.8H39V506.8H37.4V506.8H35.8V506.8H34.2V506.8H32.6V506.8H31Z" fill="#00fa00"/>
<rect x="31" y="492.5" width="1073" height="12" fill="#00ea00" opacity="0.55"/>
<rect x="221.05" y="353.4" width="2.1" height="137.6" fill="#3dfa3d"/>
<rect x="512.55" y="347.8" width="2.1" height="143.2" fill="#3dfa3d"/>
<rect x="798.15" y="350.4" width="2.1" height="140.6" fill="#3dfa3d"/>
<rect x="1092.55" y="354" width="2.1" height="137" fill="#3dfa3d"/>
</g>
<defs><clipPath id="plotclip"><rect x="31" y="3" width="1072.5" height="572"/></clipPath></defs>
<path d="M53.02 75.88h1.3M74.44 75.88h1.3M95.86 75.88h1.3M117.28 75.88h1.3M138.7 75.88h1.3M160.12 75.88h1.3M181.54 75.88h1.3M202.96 75.88h1.3M224.38 75.88h1.3M245.8 75.88h1.3M267.22 75.88h1.3M288.64 75.88h1.3M310.06 75.88h1.3M331.48 75.88h1.3M352.9 75.88h1.3M374.32 75.88h1.3M395.74 75.88h1.3M417.16 75.88h1.3M438.58 75.88h1.3M460 75.88h1.3M481.42 75.88h1.3M502.84 75.88h1.3M524.26 75.88h1.3M545.68 75.88h1.3M567.1 75.88h1.3M588.52 75.88h1.3M609.94 75.88h1.3M631.36 75.88h1.3M652.78 75.88h1.3M674.2 75.88h1.3M695.62 75.88h1.3M717.04 75.88h1.3M738.46 75.88h1.3M759.88 75.88h1.3M781.3 75.88h1.3M802.72 75.88h1.3M824.14 75.88h1.3M845.56 75.88h1.3M866.98 75.88h1.3M888.4 75.88h1.3M909.82 75.88h1.3M931.24 75.88h1.3M952.66 75.88h1.3M974.08 75.88h1.3M995.5 75.88h1.3M1016.92 75.88h1.3M1038.34 75.88h1.3M1059.76 75.88h1.3M1081.18 75.88h1.3M53.02 147.25h1.3M74.44 147.25h1.3M95.86 147.25h1.3M117.28 147.25h1.3M138.7 147.25h1.3M160.12 147.25h1.3M181.54 147.25h1.3M202.96 147.25h1.3M224.38 147.25h1.3M245.8 147.25h1.3M267.22 147.25h1.3M288.64 147.25h1.3M310.06 147.25h1.3M331.48 147.25h1.3M352.9 147.25h1.3M374.32 147.25h1.3M395.74 147.25h1.3M417.16 147.25h1.3M438.58 147.25h1.3M460 147.25h1.3M481.42 147.25h1.3M502.84 147.25h1.3M524.26 147.25h1.3M545.68 147.25h1.3M567.1 147.25h1.3M588.52 147.25h1.3M609.94 147.25h1.3M631.36 147.25h1.3M652.78 147.25h1.3M674.2 147.25h1.3M695.62 147.25h1.3M717.04 147.25h1.3M738.46 147.25h1.3M759.88 147.25h1.3M781.3 147.25h1.3M802.72 147.25h1.3M824.14 147.25h1.3M845.56 147.25h1.3M866.98 147.25h1.3M888.4 147.25h1.3M909.82 147.25h1.3M931.24 147.25h1.3M952.66 147.25h1.3M974.08 147.25h1.3M995.5 147.25h1.3M1016.92 147.25h1.3M1038.34 147.25h1.3M1059.76 147.25h1.3M1081.18 147.25h1.3M53.02 218.62h1.3M74.44 218.62h1.3M95.86 218.62h1.3M117.28 218.62h1.3M138.7 218.62h1.3M160.12 218.62h1.3M181.54 218.62h1.3M202.96 218.62h1.3M224.38 218.62h1.3M245.8 218.62h1.3M267.22 218.62h1.3M288.64 218.62h1.3M310.06 218.62h1.3M331.48 218.62h1.3M352.9 218.62h1.3M374.32 218.62h1.3M395.74 218.62h1.3M417.16 218.62h1.3M438.58 218.62h1.3M460 218.62h1.3M481.42 218.62h1.3M502.84 218.62h1.3M524.26 218.62h1.3M545.68 218.62h1.3M567.1 218.62h1.3M588.52 218.62h1.3M609.94 218.62h1.3M631.36 218.62h1.3M652.78 218.62h1.3M674.2 218.62h1.3M695.62 218.62h1.3M717.04 218.62h1.3M738.46 218.62h1.3M759.88 218.62h1.3M781.3 218.62h1.3M802.72 218.62h1.3M824.14 218.62h1.3M845.56 218.62h1.3M866.98 218.62h1.3M888.4 218.62h1.3M909.82 218.62h1.3M931.24 218.62h1.3M952.66 218.62h1.3M974.08 218.62h1.3M995.5 218.62h1.3M1016.92 218.62h1.3M1038.34 218.62h1.3M1059.76 218.62h1.3M1081.18 218.62h1.3M53.02 361.38h1.3M74.44 361.38h1.3M95.86 361.38h1.3M117.28 361.38h1.3M138.7 361.38h1.3M160.12 361.38h1.3M181.54 361.38h1.3M202.96 361.38h1.3M224.38 361.38h1.3M245.8 361.38h1.3M267.22 361.38h1.3M288.64 361.38h1.3M310.06 361.38h1.3M331.48 361.38h1.3M352.9 361.38h1.3M374.32 361.38h1.3M395.74 361.38h1.3M417.16 361.38h1.3M438.58 361.38h1.3M460 361.38h1.3M481.42 361.38h1.3M502.84 361.38h1.3M524.26 361.38h1.3M545.68 361.38h1.3M567.1 361.38h1.3M588.52 361.38h1.3M609.94 361.38h1.3M631.36 361.38h1.3M652.78 361.38h1.3M674.2 361.38h1.3M695.62 361.38h1.3M717.04 361.38h1.3M738.46 361.38h1.3M759.88 361.38h1.3M781.3 361.38h1.3M802.72 361.38h1.3M824.14 361.38h1.3M845.56 361.38h1.3M866.98 361.38h1.3M888.4 361.38h1.3M909.82 361.38h1.3M931.24 361.38h1.3M952.66 361.38h1.3M974.08 361.38h1.3M995.5 361.38h1.3M1016.92 361.38h1.3M1038.34 361.38h1.3M1059.76 361.38h1.3M1081.18 361.38h1.3M53.02 432.75h1.3M74.44 432.75h1.3M95.86 432.75h1.3M117.28 432.75h1.3M138.7 432.75h1.3M160.12 432.75h1.3M181.54 432.75h1.3M202.96 432.75h1.3M224.38 432.75h1.3M245.8 432.75h1.3M267.22 432.75h1.3M288.64 432.75h1.3M310.06 432.75h1.3M331.48 432.75h1.3M352.9 432.75h1.3M374.32 432.75h1.3M395.74 432.75h1.3M417.16 432.75h1.3M438.58 432.75h1.3M460 432.75h1.3M481.42 432.75h1.3M502.84 432.75h1.3M524.26 432.75h1.3M545.68 432.75h1.3M567.1 432.75h1.3M588.52 432.75h1.3M609.94 432.75h1.3M631.36 432.75h1.3M652.78 432.75h1.3M674.2 432.75h1.3M695.62 432.75h1.3M717.04 432.75h1.3M738.46 432.75h1.3M759.88 432.75h1.3M781.3 432.75h1.3M802.72 432.75h1.3M824.14 432.75h1.3M845.56 432.75h1.3M866.98 432.75h1.3M888.4 432.75h1.3M909.82 432.75h1.3M931.24 432.75h1.3M952.66 432.75h1.3M974.08 432.75h1.3M995.5 432.75h1.3M1016.92 432.75h1.3M1038.34 432.75h1.3M1059.76 432.75h1.3M1081.18 432.75h1.3M53.02 504.12h1.3M74.44 504.12h1.3M95.86 504.12h1.3M117.28 504.12h1.3M138.7 504.12h1.3M160.12 504.12h1.3M181.54 504.12h1.3M202.96 504.12h1.3M224.38 504.12h1.3M245.8 504.12h1.3M267.22 504.12h1.3M288.64 504.12h1.3M310.06 504.12h1.3M331.48 504.12h1.3M352.9 504.12h1.3M374.32 504.12h1.3M395.74 504.12h1.3M417.16 504.12h1.3M438.58 504.12h1.3M460 504.12h1.3M481.42 504.12h1.3M502.84 504.12h1.3M524.26 504.12h1.3M545.68 504.12h1.3M567.1 504.12h1.3M588.52 504.12h1.3M609.94 504.12h1.3M631.36 504.12h1.3M652.78 504.12h1.3M674.2 504.12h1.3M695.62 504.12h1.3M717.04 504.12h1.3M738.46 504.12h1.3M759.88 504.12h1.3M781.3 504.12h1.3M802.72 504.12h1.3M824.14 504.12h1.3M845.56 504.12h1.3M866.98 504.12h1.3M888.4 504.12h1.3M909.82 504.12h1.3M931.24 504.12h1.3M952.66 504.12h1.3M974.08 504.12h1.3M995.5 504.12h1.3M1016.92 504.12h1.3M1038.34 504.12h1.3M1059.76 504.12h1.3M1081.18 504.12h1.3M138.7 18.77h1.3M138.7 33.05h1.3M138.7 47.33h1.3M138.7 61.6h1.3M138.7 90.15h1.3M138.7 104.42h1.3M138.7 118.7h1.3M138.7 132.97h1.3M138.7 161.53h1.3M138.7 175.8h1.3M138.7 190.08h1.3M138.7 204.35h1.3M138.7 232.9h1.3M138.7 247.18h1.3M138.7 261.45h1.3M138.7 275.73h1.3M138.7 304.28h1.3M138.7 318.55h1.3M138.7 332.82h1.3M138.7 347.1h1.3M138.7 375.65h1.3M138.7 389.93h1.3M138.7 404.2h1.3M138.7 418.48h1.3M138.7 447.03h1.3M138.7 461.3h1.3M138.7 475.57h1.3M138.7 489.85h1.3M138.7 518.4h1.3M138.7 532.68h1.3M138.7 546.95h1.3M138.7 561.23h1.3M245.8 18.77h1.3M245.8 33.05h1.3M245.8 47.33h1.3M245.8 61.6h1.3M245.8 90.15h1.3M245.8 104.42h1.3M245.8 118.7h1.3M245.8 132.97h1.3M245.8 161.53h1.3M245.8 175.8h1.3M245.8 190.08h1.3M245.8 204.35h1.3M245.8 232.9h1.3M245.8 247.18h1.3M245.8 261.45h1.3M245.8 275.73h1.3M245.8 304.28h1.3M245.8 318.55h1.3M245.8 332.82h1.3M245.8 347.1h1.3M245.8 375.65h1.3M245.8 389.93h1.3M245.8 404.2h1.3M245.8 418.48h1.3M245.8 447.03h1.3M245.8 461.3h1.3M245.8 475.57h1.3M245.8 489.85h1.3M245.8 518.4h1.3M245.8 532.68h1.3M245.8 546.95h1.3M245.8 561.23h1.3M352.9 18.77h1.3M352.9 33.05h1.3M352.9 47.33h1.3M352.9 61.6h1.3M352.9 90.15h1.3M352.9 104.42h1.3M352.9 118.7h1.3M352.9 132.97h1.3M352.9 161.53h1.3M352.9 175.8h1.3M352.9 190.08h1.3M352.9 204.35h1.3M352.9 232.9h1.3M352.9 247.18h1.3M352.9 261.45h1.3M352.9 275.73h1.3M352.9 304.28h1.3M352.9 318.55h1.3M352.9 332.82h1.3M352.9 347.1h1.3M352.9 375.65h1.3M352.9 389.93h1.3M352.9 404.2h1.3M352.9 418.48h1.3M352.9 447.03h1.3M352.9 461.3h1.3M352.9 475.57h1.3M352.9 489.85h1.3M352.9 518.4h1.3M352.9 532.68h1.3M352.9 546.95h1.3M352.9 561.23h1.3M460 18.77h1.3M460 33.05h1.3M460 47.33h1.3M460 61.6h1.3M460 90.15h1.3M460 104.42h1.3M460 118.7h1.3M460 132.97h1.3M460 161.53h1.3M460 175.8h1.3M460 190.08h1.3M460 204.35h1.3M460 232.9h1.3M460 247.18h1.3M460 261.45h1.3M460 275.73h1.3M460 304.28h1.3M460 318.55h1.3M460 332.82h1.3M460 347.1h1.3M460 375.65h1.3M460 389.93h1.3M460 404.2h1.3M460 418.48h1.3M460 447.03h1.3M460 461.3h1.3M460 475.57h1.3M460 489.85h1.3M460 518.4h1.3M460 532.68h1.3M460 546.95h1.3M460 561.23h1.3M674.2 18.77h1.3M674.2 33.05h1.3M674.2 47.33h1.3M674.2 61.6h1.3M674.2 90.15h1.3M674.2 104.42h1.3M674.2 118.7h1.3M674.2 132.97h1.3M674.2 161.53h1.3M674.2 175.8h1.3M674.2 190.08h1.3M674.2 204.35h1.3M674.2 232.9h1.3M674.2 247.18h1.3M674.2 261.45h1.3M674.2 275.73h1.3M674.2 304.28h1.3M674.2 318.55h1.3M674.2 332.82h1.3M674.2 347.1h1.3M674.2 375.65h1.3M674.2 389.93h1.3M674.2 404.2h1.3M674.2 418.48h1.3M674.2 447.03h1.3M674.2 461.3h1.3M674.2 475.57h1.3M674.2 489.85h1.3M674.2 518.4h1.3M674.2 532.68h1.3M674.2 546.95h1.3M674.2 561.23h1.3M781.3 18.77h1.3M781.3 33.05h1.3M781.3 47.33h1.3M781.3 61.6h1.3M781.3 90.15h1.3M781.3 104.42h1.3M781.3 118.7h1.3M781.3 132.97h1.3M781.3 161.53h1.3M781.3 175.8h1.3M781.3 190.08h1.3M781.3 204.35h1.3M781.3 232.9h1.3M781.3 247.18h1.3M781.3 261.45h1.3M781.3 275.73h1.3M781.3 304.28h1.3M781.3 318.55h1.3M781.3 332.82h1.3M781.3 347.1h1.3M781.3 375.65h1.3M781.3 389.93h1.3M781.3 404.2h1.3M781.3 418.48h1.3M781.3 447.03h1.3M781.3 461.3h1.3M781.3 475.57h1.3M781.3 489.85h1.3M781.3 518.4h1.3M781.3 532.68h1.3M781.3 546.95h1.3M781.3 561.23h1.3M888.4 18.77h1.3M888.4 33.05h1.3M888.4 47.33h1.3M888.4 61.6h1.3M888.4 90.15h1.3M888.4 104.42h1.3M888.4 118.7h1.3M888.4 132.97h1.3M888.4 161.53h1.3M888.4 175.8h1.3M888.4 190.08h1.3M888.4 204.35h1.3M888.4 232.9h1.3M888.4 247.18h1.3M888.4 261.45h1.3M888.4 275.73h1.3M888.4 304.28h1.3M888.4 318.55h1.3M888.4 332.82h1.3M888.4 347.1h1.3M888.4 375.65h1.3M888.4 389.93h1.3M888.4 404.2h1.3M888.4 418.48h1.3M888.4 447.03h1.3M888.4 461.3h1.3M888.4 475.57h1.3M888.4 489.85h1.3M888.4 518.4h1.3M888.4 532.68h1.3M888.4 546.95h1.3M888.4 561.23h1.3M995.5 18.77h1.3M995.5 33.05h1.3M995.5 47.33h1.3M995.5 61.6h1.3M995.5 90.15h1.3M995.5 104.42h1.3M995.5 118.7h1.3M995.5 132.97h1.3M995.5 161.53h1.3M995.5 175.8h1.3M995.5 190.08h1.3M995.5 204.35h1.3M995.5 232.9h1.3M995.5 247.18h1.3M995.5 261.45h1.3M995.5 275.73h1.3M995.5 304.28h1.3M995.5 318.55h1.3M995.5 332.82h1.3M995.5 347.1h1.3M995.5 375.65h1.3M995.5 389.93h1.3M995.5 404.2h1.3M995.5 418.48h1.3M995.5 447.03h1.3M995.5 461.3h1.3M995.5 475.57h1.3M995.5 489.85h1.3M995.5 518.4h1.3M995.5 532.68h1.3M995.5 546.95h1.3M995.5 561.23h1.3" stroke="#4a4a4a" stroke-width="1.3" fill="none" opacity="0.8"/>
<rect x="566.75" y="3" width="2" height="573" fill="#3c3c3c"/>
<rect x="31" y="288.9" width="1073" height="2" fill="#3c3c3c"/>
<path d="M562.75 18.77H572.75M562.75 33.05H572.75M562.75 47.33H572.75M562.75 61.6H572.75M558.75 75.88H576.75M562.75 90.15H572.75M562.75 104.42H572.75M562.75 118.7H572.75M562.75 132.97H572.75M558.75 147.25H576.75M562.75 161.53H572.75M562.75 175.8H572.75M562.75 190.08H572.75M562.75 204.35H572.75M558.75 218.62H576.75M562.75 232.9H572.75M562.75 247.18H572.75M562.75 261.45H572.75M562.75 275.73H572.75M562.75 290H572.75M562.75 304.28H572.75M562.75 318.55H572.75M562.75 332.82H572.75M562.75 347.1H572.75M558.75 361.38H576.75M562.75 375.65H572.75M562.75 389.93H572.75M562.75 404.2H572.75M562.75 418.48H572.75M558.75 432.75H576.75M562.75 447.03H572.75M562.75 461.3H572.75M562.75 475.57H572.75M562.75 489.85H572.75M558.75 504.12H576.75M562.75 518.4H572.75M562.75 532.68H572.75M562.75 546.95H572.75M562.75 561.23H572.75" stroke="#333" stroke-width="1.2" stroke-dasharray="1.2 1" fill="none"/>
<path d="M53.67 285.2V294.8M75.09 285.2V294.8M96.51 285.2V294.8M117.93 285.2V294.8M139.35 281.5V298.5M160.77 285.2V294.8M182.19 285.2V294.8M203.61 285.2V294.8M225.03 285.2V294.8M246.45 281.5V298.5M267.87 285.2V294.8M289.29 285.2V294.8M310.71 285.2V294.8M332.13 285.2V294.8M353.55 281.5V298.5M374.97 285.2V294.8M396.39 285.2V294.8M417.81 285.2V294.8M439.23 285.2V294.8M460.65 281.5V298.5M482.07 285.2V294.8M503.49 285.2V294.8M524.91 285.2V294.8M546.33 285.2V294.8M567.75 285.2V294.8M589.17 285.2V294.8M610.59 285.2V294.8M632.01 285.2V294.8M653.43 285.2V294.8M674.85 281.5V298.5M696.27 285.2V294.8M717.69 285.2V294.8M739.11 285.2V294.8M760.53 285.2V294.8M781.95 281.5V298.5M803.37 285.2V294.8M824.79 285.2V294.8M846.21 285.2V294.8M867.63 285.2V294.8M889.05 281.5V298.5M910.47 285.2V294.8M931.89 285.2V294.8M953.31 285.2V294.8M974.73 285.2V294.8M996.15 281.5V298.5M1017.57 285.2V294.8M1038.99 285.2V294.8M1060.41 285.2V294.8M1081.83 285.2V294.8" stroke="#333" stroke-width="1.2" stroke-dasharray="1.2 1" fill="none"/>
<path d="M565.55 18.77H569.95M565.55 33.05H569.95M565.55 47.33H569.95M565.55 61.6H569.95M565.55 75.88H569.95M565.55 90.15H569.95M565.55 104.42H569.95M565.55 118.7H569.95M565.55 132.97H569.95M565.55 147.25H569.95M565.55 161.53H569.95M565.55 175.8H569.95M565.55 190.08H569.95M565.55 204.35H569.95M565.55 218.62H569.95M565.55 232.9H569.95M565.55 247.18H569.95M565.55 261.45H569.95M565.55 275.73H569.95M565.55 290H569.95M565.55 304.28H569.95M565.55 318.55H569.95M565.55 332.82H569.95M565.55 347.1H569.95M565.55 361.38H569.95M565.55 375.65H569.95M565.55 389.93H569.95M565.55 404.2H569.95M565.55 418.48H569.95M565.55 432.75H569.95M565.55 447.03H569.95M565.55 461.3H569.95M565.55 475.57H569.95M565.55 489.85H569.95M565.55 504.12H569.95M565.55 518.4H569.95M565.55 532.68H569.95M565.55 546.95H569.95M565.55 561.23H569.95M53.67 287.8V292M75.09 287.8V292M96.51 287.8V292M117.93 287.8V292M139.35 287.8V292M160.77 287.8V292M182.19 287.8V292M203.61 287.8V292M225.03 287.8V292M246.45 287.8V292M267.87 287.8V292M289.29 287.8V292M310.71 287.8V292M332.13 287.8V292M353.55 287.8V292M374.97 287.8V292M396.39 287.8V292M417.81 287.8V292M439.23 287.8V292M460.65 287.8V292M482.07 287.8V292M503.49 287.8V292M524.91 287.8V292M546.33 287.8V292M567.75 287.8V292M589.17 287.8V292M610.59 287.8V292M632.01 287.8V292M653.43 287.8V292M674.85 287.8V292M696.27 287.8V292M717.69 287.8V292M739.11 287.8V292M760.53 287.8V292M781.95 287.8V292M803.37 287.8V292M824.79 287.8V292M846.21 287.8V292M867.63 287.8V292M889.05 287.8V292M910.47 287.8V292M931.89 287.8V292M953.31 287.8V292M974.73 287.8V292M996.15 287.8V292M1017.57 287.8V292M1038.99 287.8V292M1060.41 287.8V292M1081.83 287.8V292" stroke="#2a2a2a" stroke-width="1.3" fill="none"/>
<path d="M32 18.77h3.6M1099.4 18.77h3.6M32 33.05h3.6M1099.4 33.05h3.6M32 47.33h3.6M1099.4 47.33h3.6M32 61.6h3.6M1099.4 61.6h3.6M32 75.88h8M1095 75.88h8M32 90.15h3.6M1099.4 90.15h3.6M32 104.42h3.6M1099.4 104.42h3.6M32 118.7h3.6M1099.4 118.7h3.6M32 132.97h3.6M1099.4 132.97h3.6M32 147.25h8M1095 147.25h8M32 161.53h3.6M1099.4 161.53h3.6M32 175.8h3.6M1099.4 175.8h3.6M32 190.08h3.6M1099.4 190.08h3.6M32 204.35h3.6M1099.4 204.35h3.6M32 218.62h8M1095 218.62h8M32 232.9h3.6M1099.4 232.9h3.6M32 247.18h3.6M1099.4 247.18h3.6M32 261.45h3.6M1099.4 261.45h3.6M32 275.73h3.6M1099.4 275.73h3.6M32 290h8M1095 290h8M32 304.28h3.6M1099.4 304.28h3.6M32 318.55h3.6M1099.4 318.55h3.6M32 332.82h3.6M1099.4 332.82h3.6M32 347.1h3.6M1099.4 347.1h3.6M32 361.38h8M1095 361.38h8M32 375.65h3.6M1099.4 375.65h3.6M32 389.93h3.6M1099.4 389.93h3.6M32 404.2h3.6M1099.4 404.2h3.6M32 418.48h3.6M1099.4 418.48h3.6M32 432.75h8M1095 432.75h8M32 447.03h3.6M1099.4 447.03h3.6M32 461.3h3.6M1099.4 461.3h3.6M32 475.57h3.6M1099.4 475.57h3.6M32 489.85h3.6M1099.4 489.85h3.6M32 504.12h8M1095 504.12h8M32 518.4h3.6M1099.4 518.4h3.6M32 532.68h3.6M1099.4 532.68h3.6M32 546.95h3.6M1099.4 546.95h3.6M32 561.23h3.6M1099.4 561.23h3.6M53.67 3.5v4.5M53.67 571.6v3M75.09 3.5v4.5M75.09 571.6v3M96.51 3.5v4.5M96.51 571.6v3M117.93 3.5v4.5M117.93 571.6v3M139.35 3.5v8M139.35 567.6v7M160.77 3.5v4.5M160.77 571.6v3M182.19 3.5v4.5M182.19 571.6v3M203.61 3.5v4.5M203.61 571.6v3M225.03 3.5v4.5M225.03 571.6v3M246.45 3.5v8M246.45 567.6v7M267.87 3.5v4.5M267.87 571.6v3M289.29 3.5v4.5M289.29 571.6v3M310.71 3.5v4.5M310.71 571.6v3M332.13 3.5v4.5M332.13 571.6v3M353.55 3.5v8M353.55 567.6v7M374.97 3.5v4.5M374.97 571.6v3M396.39 3.5v4.5M396.39 571.6v3M417.81 3.5v4.5M417.81 571.6v3M439.23 3.5v4.5M439.23 571.6v3M460.65 3.5v8M460.65 567.6v7M482.07 3.5v4.5M482.07 571.6v3M503.49 3.5v4.5M503.49 571.6v3M524.91 3.5v4.5M524.91 571.6v3M546.33 3.5v4.5M546.33 571.6v3M567.75 3.5v8M567.75 567.6v7M589.17 3.5v4.5M589.17 571.6v3M610.59 3.5v4.5M610.59 571.6v3M632.01 3.5v4.5M632.01 571.6v3M653.43 3.5v4.5M653.43 571.6v3M674.85 3.5v8M674.85 567.6v7M696.27 3.5v4.5M696.27 571.6v3M717.69 3.5v4.5M717.69 571.6v3M739.11 3.5v4.5M739.11 571.6v3M760.53 3.5v4.5M760.53 571.6v3M781.95 3.5v8M781.95 567.6v7M803.37 3.5v4.5M803.37 571.6v3M824.79 3.5v4.5M824.79 571.6v3M846.21 3.5v4.5M846.21 571.6v3M867.63 3.5v4.5M867.63 571.6v3M889.05 3.5v8M889.05 567.6v7M910.47 3.5v4.5M910.47 571.6v3M931.89 3.5v4.5M931.89 571.6v3M953.31 3.5v4.5M953.31 571.6v3M974.73 3.5v4.5M974.73 571.6v3M996.15 3.5v8M996.15 567.6v7M1017.57 3.5v4.5M1017.57 571.6v3M1038.99 3.5v4.5M1038.99 571.6v3M1060.41 3.5v4.5M1060.41 571.6v3M1081.83 3.5v4.5M1081.83 571.6v3" stroke="#333" stroke-width="1.2" stroke-dasharray="1.3 0.9" fill="none"/>
<rect x="30" y="2" width="2.1" height="575.5" fill="#555"/>
<rect x="30" y="2" width="1075" height="1.7" fill="#555"/>
<rect x="1102.3" y="2" width="2.3" height="575.5" fill="#454a4a"/>
<rect x="30" y="574.4" width="1075" height="3.1" fill="#111"/>
<path d="M559.3 3.6H575.7L567.5 12.3Z" fill="#ff9a0a"/>
<path d="M507.3 12.3H521.8Q523.8 12.3 523.8 14.3V30.5L514.6 35.6L505.4 30.5V14.3Q505.4 12.3 507.3 12.3Z" fill="#ff9708"/>
<path d="M507.6 13.9H521.6V17H517V30.5H512.2V17H507.6Z" fill="#ffe6c0"/>
<path d="M1087.2 358.5L1095.6 350.2V366.8Z" fill="#0aa80a"/>
<rect x="1095" y="357.4" width="7.5" height="2.2" fill="#16c416"/>
<rect x="33.4" y="204.8" width="67.4" height="23.1" fill="#fff"/>
<rect x="33.6" y="486.8" width="21.8" height="23.6" fill="#fff"/>
<path d="M4.2 205.2H19.6L29.8 216.6L19.6 228.9H4.2L2.4 226.8V207.2Z" fill="#fdffff" stroke="#9adbe2" stroke-width="2" stroke-linejoin="round"/>
<path d="M4 226V207.6H18.6" fill="none" stroke="#2aaab2" stroke-width="0.9" opacity="0.85"/>
<path d="M24.5 211.5L28.8 216.6L24.5 222" fill="none" stroke="#5cc8d0" stroke-width="1.6"/>
<path d="M3 490.2H19L29.4 501.2L19 512.4H3L2 511.2V491.4Z" fill="#17a317" stroke="#2fae2f" stroke-width="1.6" stroke-linejoin="round"/>
<path d="M4.6 492H18.2L26.4 501.2L18.2 510.6H4.6Z" fill="none" stroke="#62cc62" stroke-width="1" opacity="0.9"/>
</svg>
<div class="t" id="t1" style="left:0;top:70.6px;width:1111px;height:27px"><span style="left:100.80px;letter-spacing:-0.73px">VOUT</span> <span style="left:181.60px;letter-spacing:0.00px">=</span> <span style="left:203.50px;letter-spacing:1.41px">20mV/div</span> <span style="left:333.80px;letter-spacing:-0.40px">(AC</span> <span style="left:385.30px;letter-spacing:1.06px">coupled)</span> </div>
<div class="t" id="t2" style="left:0;top:313.6px;width:1111px;height:27px"><span style="left:109.84px;transform:scaleX(0.880);transform-origin:0 0">IL</span> <span style="left:137.40px;letter-spacing:0.00px">=</span> <span style="left:160.70px;letter-spacing:1.41px">500mA/div</span> </div>
<div class="t" id="t3" style="left:0;top:593.8px;width:1111px;height:27px"><span style="left:513.90px;letter-spacing:1.27px">4mS/div</span> </div>
<div class="t lb" id="l1">VOUT</div>
<div class="t lb" id="l2">IL</div>
<div class="t" id="m2">2</div>
<div class="t" id="m4">4</div>
</body></html>
